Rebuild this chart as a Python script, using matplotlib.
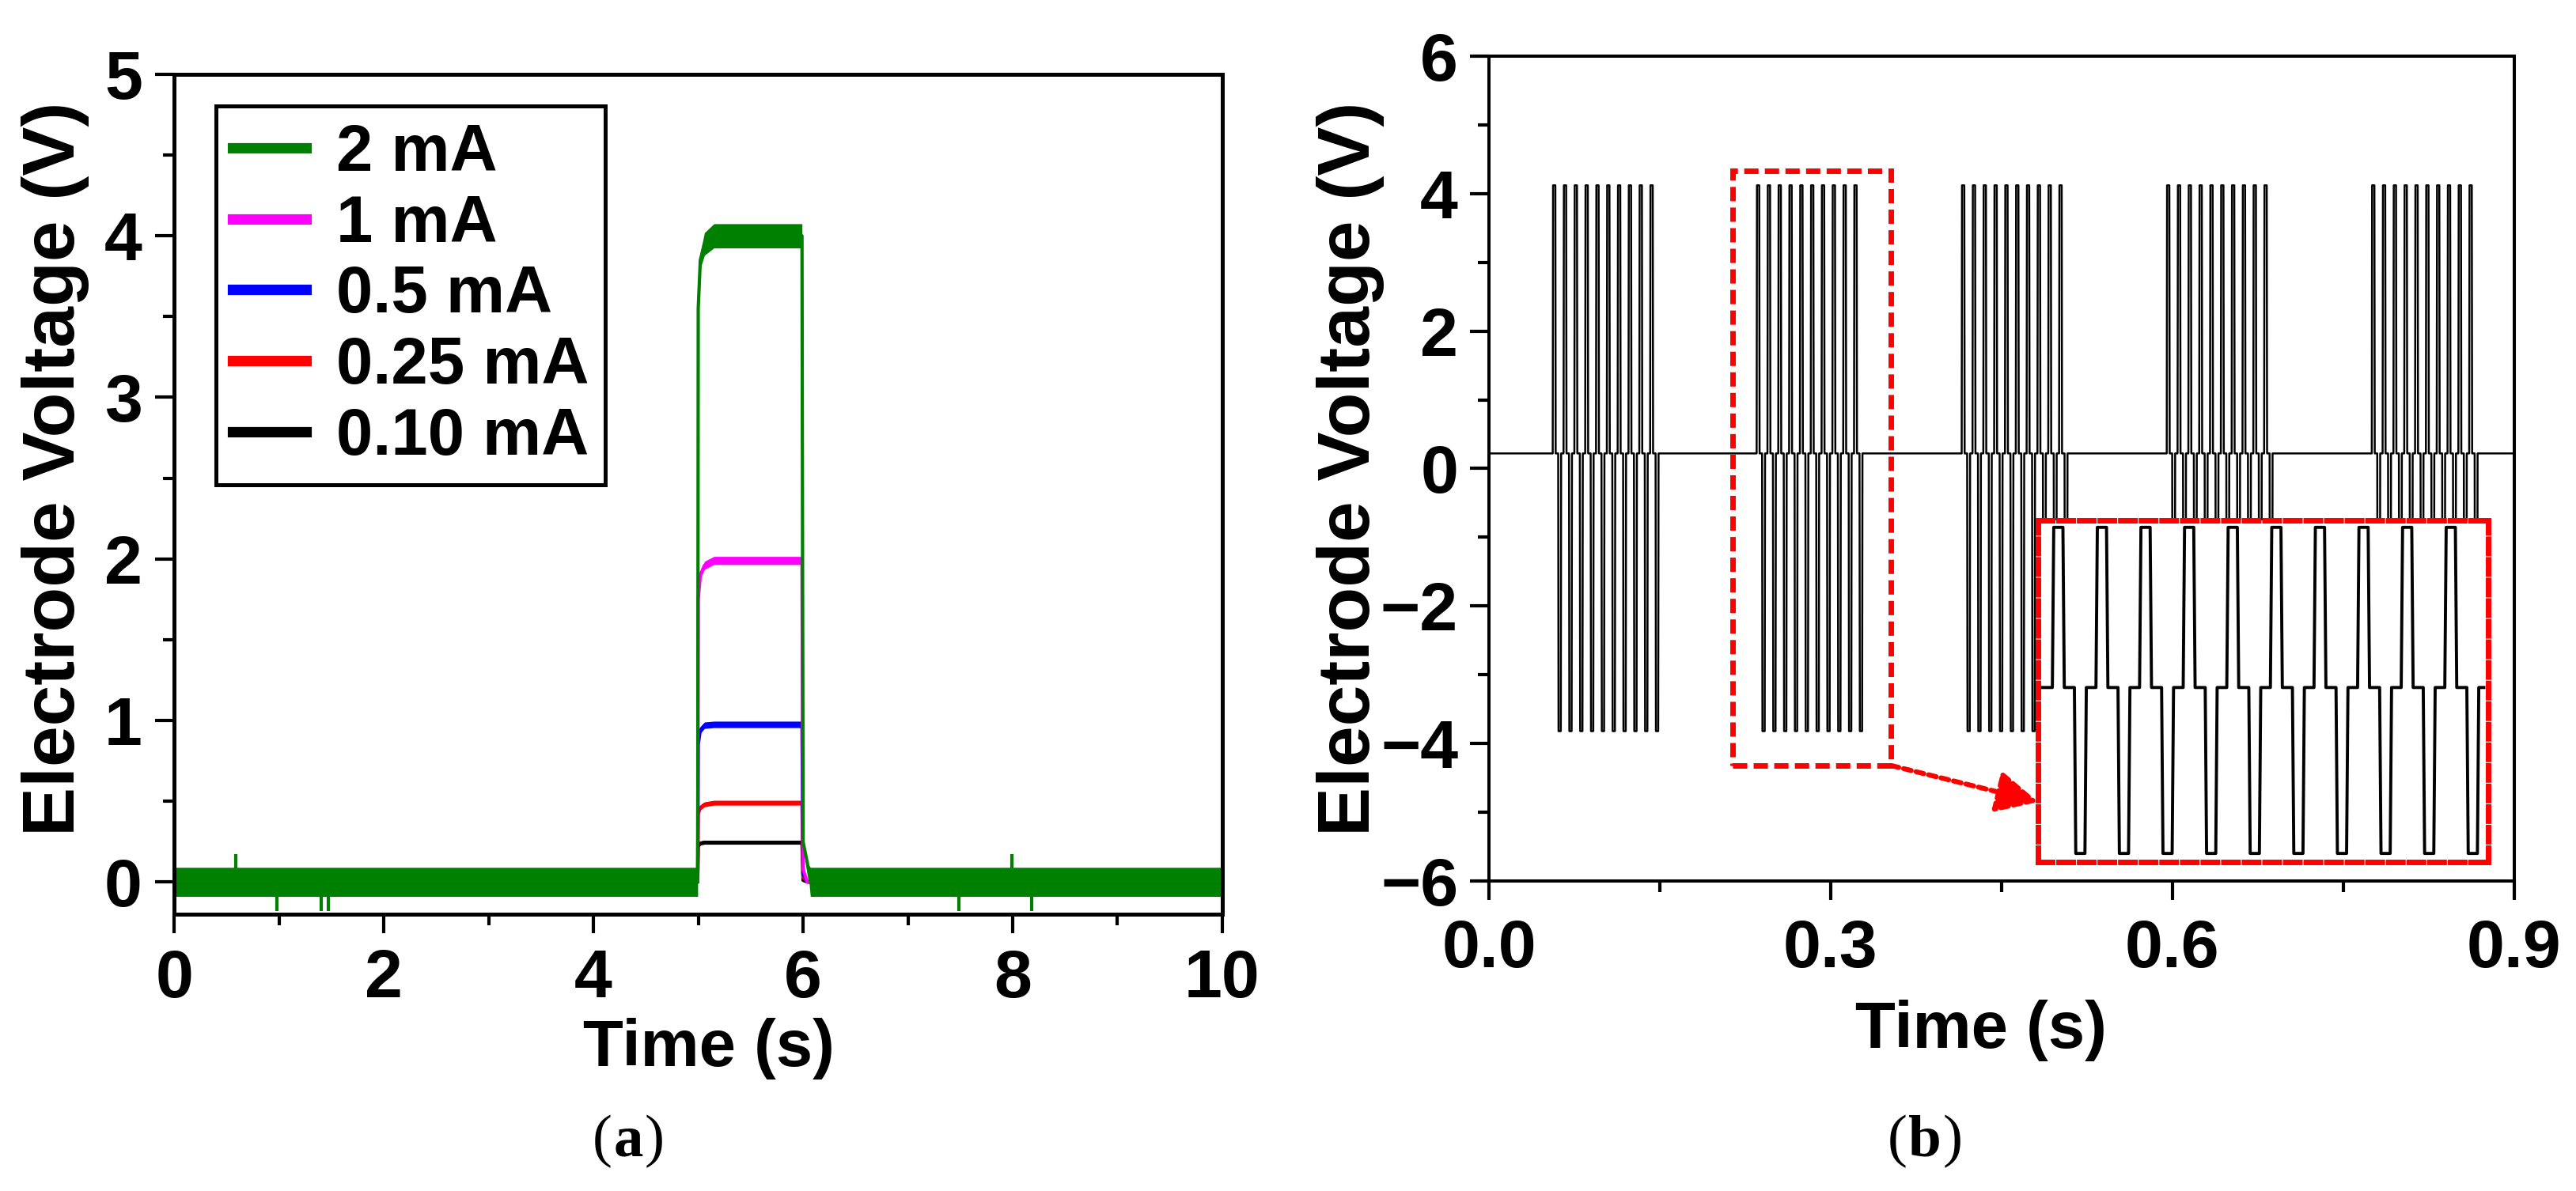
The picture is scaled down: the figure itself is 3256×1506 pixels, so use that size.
import numpy as np
import matplotlib
matplotlib.use("Agg")
import matplotlib.pyplot as plt
from matplotlib.lines import Line2D
from matplotlib.patches import Rectangle
from matplotlib.ticker import MultipleLocator, FormatStrFormatter
from matplotlib.offsetbox import TextArea, HPacker, AnchoredOffsetbox

plt.rcParams['font.family'] = ['Liberation Sans', 'DejaVu Sans']
plt.rcParams['font.weight'] = 'bold'
plt.rcParams['axes.labelweight'] = 'bold'

# ---- (a) step response for five currents ----
time_a = [0.0, 4.995, 5.0, 5.02, 5.06, 5.15, 5.99, 6.0, 6.04, 6.07, 10.0]

labels_a = ['2 mA', '1 mA', '0.5 mA', '0.25 mA', '0.10 mA']
colors_a = ['#008000', '#ff00ff', '#0000ff', '#ff0000', '#000000']

volt_2mA = [0.0, 0.0, 3.55, 3.85, 3.95, 4.0, 4.0, 0.25, 0.12, 0.0, 0.0]
volt_1mA = [0.0, 0.0, 1.75, 1.90, 1.96, 1.99, 1.99, 0.08, 0.0, 0.0, 0.0]
volt_05mA = [0.0, 0.0, 0.85, 0.94, 0.97, 0.975, 0.975, 0.05, 0.0, 0.0, 0.0]
volt_025mA = [0.0, 0.0, 0.42, 0.46, 0.48, 0.49, 0.49, 0.03, 0.0, 0.0, 0.0]
volt_010mA = [0.0, 0.0, 0.22, 0.24, 0.245, 0.245, 0.245, 0.01, 0.0, 0.0, 0.0]

# half width of the noise band around each trace
band_2mA = [0.09, 0.09, 0.03, 0.05, 0.07, 0.075, 0.075, 0.0, 0.0, 0.09, 0.09]
band_1mA = [0.0, 0.0, 0.01, 0.02, 0.025, 0.025, 0.025, 0.0, 0.0, 0.0, 0.0]
band_05mA = [0.0, 0.0, 0.01, 0.02, 0.02, 0.02, 0.02, 0.0, 0.0, 0.0, 0.0]
band_025mA = [0.0, 0.0, 0.01, 0.015, 0.015, 0.015, 0.015, 0.0, 0.0, 0.0, 0.0]
band_010mA = [0.0, 0.0, 0.01, 0.012, 0.012, 0.012, 0.012, 0.0, 0.0, 0.0, 0.0]

# isolated glitches on the 2 mA baseline
spike_t = [0.59, 0.98, 1.40, 1.47, 7.49, 7.99, 8.18]
spike_v = [0.17, -0.18, -0.18, -0.18, -0.18, 0.17, -0.18]

# ---- (b) biphasic pulse trains ----
burst_start = [0.056, 0.235, 0.415, 0.595, 0.775]
pulse_offset = [0.0, 0.0095, 0.0190, 0.0285, 0.0380, 0.0475, 0.0570, 0.0665, 0.0760, 0.0855]
v_rest = 0.22
v_anodic = 4.12
v_cathodic = -3.82
pulse_width = 0.0026
cathodic_delay = 0.0048
edge = 0.0003

zoom_box = (0.214, 0.353, -4.32, 4.33)  # x0, x1, y0, y1 of the highlighted burst

TICK_FS = 62
LABEL_FS = 60
YLABEL_FS = 67


def burst_wave(t0):
    tt, vv = [], []
    for off in pulse_offset:
        p = t0 + off
        q = p + cathodic_delay
        tt += [p, p + edge, p + pulse_width - edge, p + pulse_width,
               q, q + edge, q + pulse_width - edge, q + pulse_width]
        vv += [v_rest, v_anodic, v_anodic, v_rest,
               v_rest, v_cathodic, v_cathodic, v_rest]
    return tt, vv


def style_axes(ax, spine_w, xpad, ypad):
    for s in ax.spines.values():
        s.set_linewidth(spine_w)
    ax.tick_params(which='both', direction='out', top=False, right=False, width=3)
    ax.tick_params(which='major', length=17, labelsize=TICK_FS)
    ax.tick_params(which='minor', length=10)
    ax.tick_params(axis='x', which='major', pad=xpad)
    ax.tick_params(axis='y', which='major', pad=ypad)


def caption(letter, x, y):
    serif = dict(family='Liberation Serif', size=54, weight='normal')
    parts = [TextArea('(', textprops=serif),
             TextArea(letter, textprops=dict(serif, weight='bold')),
             TextArea(')', textprops=serif)]
    box = AnchoredOffsetbox(loc='center', child=HPacker(children=parts, pad=0, sep=1),
                            bbox_to_anchor=(x, y), bbox_transform=fig.transFigure,
                            frameon=False, pad=0, borderpad=0)
    fig.add_artist(box)


fig = plt.figure(figsize=(32.56, 15.06), dpi=100)

# ---------------- panel (a) ----------------
ax1 = fig.add_axes([0.0676, 0.2324, 0.4069, 0.7052])
volts = [volt_2mA, volt_1mA, volt_05mA, volt_025mA, volt_010mA]
bands = [band_2mA, band_1mA, band_05mA, band_025mA, band_010mA]
t_arr = np.array(time_a)
for v, b, c in list(zip(volts, bands, colors_a))[::-1]:
    v = np.array(v)
    b = np.array(b)
    ax1.fill_between(t_arr, v - b, v + b, color=c, lw=0)
    ax1.plot(t_arr, v, color=c, lw=3)
ax1.vlines(spike_t, 0, spike_v, color=colors_a[0], lw=3)

ax1.set_xlim(0, 10)
ax1.set_ylim(-0.2, 5)
ax1.xaxis.set_major_locator(MultipleLocator(2))
ax1.xaxis.set_minor_locator(MultipleLocator(1))
ax1.yaxis.set_major_locator(MultipleLocator(1))
ax1.yaxis.set_minor_locator(MultipleLocator(0.5))
style_axes(ax1, 3.6, 14, 12)
ax1.set_xlabel('Time (s)', fontsize=LABEL_FS)
ax1.set_ylabel('Electrode Voltage (V)', fontsize=YLABEL_FS)
ax1.xaxis.set_label_coords(0.51, -0.123)
ax1.yaxis.set_label_coords(-0.081, 0.53)

handles = [Line2D([], [], color=c, lw=9.5) for c in colors_a]
leg = ax1.legend(handles, labels_a, loc='upper left', bbox_to_anchor=(0.04, 0.962),
                 borderaxespad=0, fontsize=LABEL_FS, handlelength=1.12, handletextpad=0.45,
                 labelspacing=0.14, borderpad=0.25, fancybox=False, framealpha=1,
                 edgecolor='black')
leg.get_frame().set_linewidth(3.6)

# ---------------- panel (b) ----------------
ax2 = fig.add_axes([0.5780, 0.2603, 0.3980, 0.6926])
t_main, v_main = [0.0], [v_rest]
for t0 in burst_start:
    tt, vv = burst_wave(t0)
    t_main += tt
    v_main += vv
t_main.append(0.9)
v_main.append(v_rest)
ax2.plot(t_main, v_main, color='black', lw=1.8)

ax2.set_xlim(0, 0.9)
ax2.set_ylim(-6, 6)
ax2.xaxis.set_major_locator(MultipleLocator(0.3))
ax2.xaxis.set_minor_locator(MultipleLocator(0.15))
ax2.xaxis.set_major_formatter(FormatStrFormatter('%.1f'))
ax2.yaxis.set_major_locator(MultipleLocator(2))
ax2.yaxis.set_minor_locator(MultipleLocator(1))
style_axes(ax2, 2.9, 17, 11)
ax2.set_xlabel('Time (s)', fontsize=LABEL_FS)
ax2.set_ylabel('Electrode Voltage (V)', fontsize=YLABEL_FS)
ax2.xaxis.set_label_coords(0.48, -0.144)
ax2.yaxis.set_label_coords(-0.102, 0.5)

x0, x1, y0, y1 = zoom_box
ax2.add_patch(Rectangle((x0, y0), x1 - x0, y1 - y0, fill=False, ec='#ff0000',
                        lw=5, linestyle=(0, (2.6, 1.15)), zorder=4))

# zoomed view of one burst
ax_in = fig.add_axes([0.7912, 0.2762, 0.1748, 0.2869])
t_in, v_in = burst_wave(0.0)
t_in = [-0.0027] + t_in + [0.0940]
v_in = [v_rest] + v_in + [v_rest]
ax_in.plot(t_in, v_in, color='black', lw=2.8)
ax_in.set_xlim(-0.0031, 0.0950)
ax_in.set_ylim(-4.03, 4.29)
ax_in.set_xticks([])
ax_in.set_yticks([])
ax_in.set_facecolor('white')
for s in ax_in.spines.values():
    s.set_edgecolor('#ff0000')
    s.set_linewidth(5)
    s.set_linestyle((0, (2.6, 1.15)))

ax2.annotate('', xy=(0.0, 0.176), xycoords=ax_in.transAxes,
             xytext=(x1, y0), textcoords='data', annotation_clip=False,
             arrowprops=dict(arrowstyle='-|>,head_length=0.8,head_width=0.4',
                             mutation_scale=40, color='#ff0000', lw=4.5,
                             linestyle=(0, (1.6, 1.0)), shrinkA=0, shrinkB=0))

# panel captions
caption('a', 794 / 3256, 1 - 1443 / 1506)
caption('b', 2433 / 3256, 1 - 1443 / 1506)

fig.savefig('out.png', dpi=100, facecolor='white')
